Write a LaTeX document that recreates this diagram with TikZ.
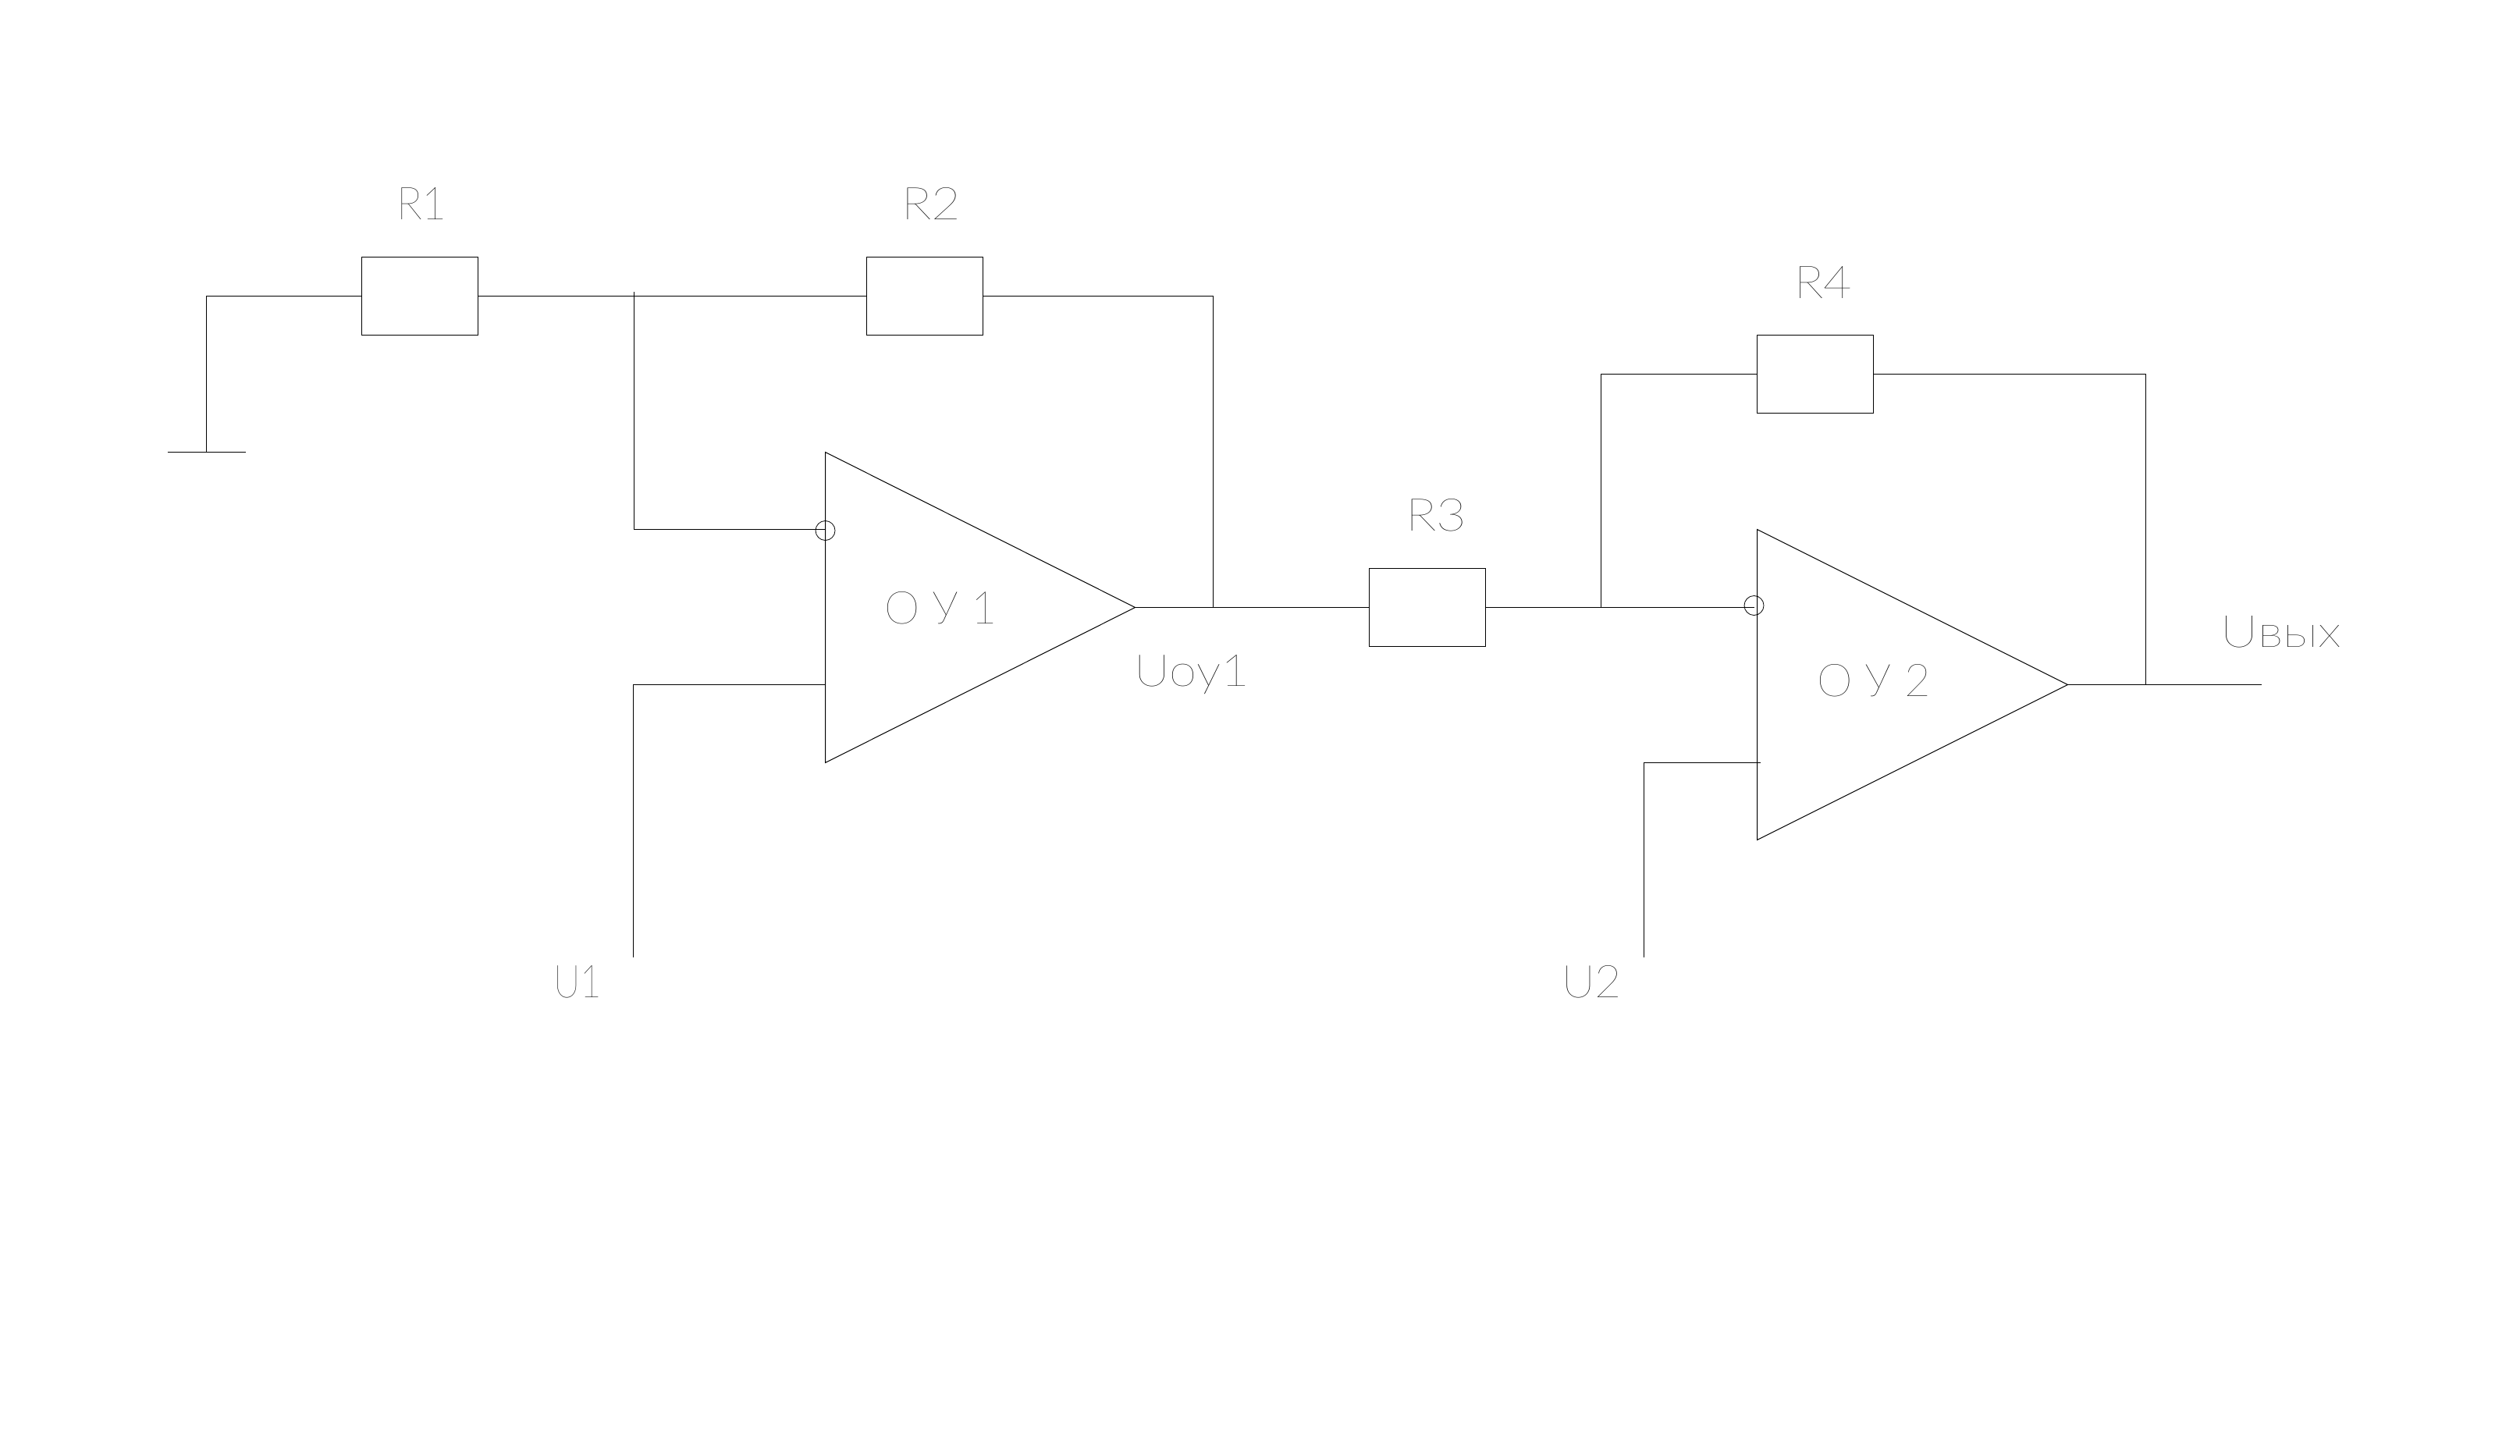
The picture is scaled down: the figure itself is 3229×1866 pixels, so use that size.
\documentclass[tikz,border=0pt]{standalone}
\usepackage{graphicx}
\usepackage{fontspec}
\setmainfont{Lato}[UprightFont=* Thin]
\newcommand{\lab}[6]{\node[lab] (#1) at (#2,#3) {\resizebox{\dimexpr#4pt/2\relax}{\dimexpr#5pt/2\relax}{#6}};}
\tikzset{
  x=0.5pt,y=-0.5pt,
  wire/.style={draw=black,line width=0.5pt},
  lab/.style={anchor=base west,inner sep=0pt,outer sep=0pt,font=\fontsize{24}{28}\selectfont},
  res/.style={draw=black,line width=0.5pt,rectangle,minimum width=74.5pt,minimum height=50pt,inner sep=0pt,outer sep=0pt},
  bub/.style={draw=black,line width=0.4pt,circle,minimum size=12.5pt,inner sep=0pt,outer sep=0pt}
}
\begin{document}
\begin{tikzpicture}
\useasboundingbox (1,1) rectangle (3230,1867);
% resistors
\node[res] (r1) at (539,380.5) {};
\node[res] (r2) at (1186,380.5) {};
\node[res] (r3) at (1830,779.5) {};
\node[res] (r4) at (2327,480.5) {};
% op-amp corners
\coordinate (a1t) at (1058.5,580.5);
\coordinate (a1b) at (1058.5,978.5);
\coordinate (a1o) at (1455.5,779.5);
\coordinate (a2t) at (2252.5,679.5);
\coordinate (a2b) at (2252.5,1077.5);
\coordinate (a2o) at (2650.5,878.5);
\draw[wire] (a1t) -- (a1o) -- (a1b) -- cycle;
\draw[wire] (a2t) -- (a2o) -- (a2b) -- cycle;
% inversion circles
\node[bub] (b1) at (1058.5,681) {};
\node[bub] (b2) at (2248.5,777) {};
% free ends and junctions
\coordinate (gnd) at (265.5,580.5);
\coordinate (gl) at (215.5,580.5);
\coordinate (gr) at (315.5,580.5);
\coordinate (gup) at (265.5,380.5);
\coordinate (jtop) at (813.5,375.5);
\coordinate (j1) at (813.5,679.5);
\coordinate (in1) at (1058.5,679.5);
\coordinate (fb1t) at (1555.5,380.5);
\coordinate (fb1b) at (1555.5,779.5);
\coordinate (p1) at (1058.5,878.5);
\coordinate (p1c) at (812.5,878.5);
\coordinate (u1e) at (812.5,1227.5);
\coordinate (in2) at (2248.5,779.5);
\coordinate (f2l) at (2052.5,779.5);
\coordinate (f2t) at (2052.5,480.5);
\coordinate (f2r) at (2750.5,480.5);
\coordinate (f2b) at (2750.5,878.5);
\coordinate (p2) at (2256.5,978.5);
\coordinate (p2c) at (2107.5,978.5);
\coordinate (u2e) at (2107.5,1227.5);
\coordinate (oe) at (2898.5,878.5);
% wiring
\draw[wire] (gl) -- (gr);
\draw[wire] (gnd) -- (gup) -- (r1.west);
\draw[wire] (r1.east) -- (r2.west);
\draw[wire] (r2.east) -- (fb1t) -- (fb1b);
\draw[wire] (jtop) -- (j1) -- (in1);
\draw[wire] (u1e) -- (p1c) -- (p1);
\draw[wire] (a1o) -- (r3.west);
\draw[wire] (r3.east) -- (in2);
\draw[wire] (f2l) -- (f2t) -- (r4.west);
\draw[wire] (r4.east) -- (f2r) -- (f2b);
\draw[wire] (u2e) -- (p2c) -- (p2);
\draw[wire] (a2o) -- (oe);
% labels
\lab{tr1}{509}{283}{65}{41}{R1}
\lab{tr2}{1156}{283}{76}{41}{R2}
\lab{tr3}{1802}{682}{78}{41}{R3}
\lab{tr4}{2300}{384}{74}{41}{R4}
\lab{toa}{1134}{800}{145}{41}{О У 1}
\lab{too}{1454}{880}{148}{40}{Uоу1}
\lab{tob}{2329}{893}{146}{41}{О У 2}
\lab{tvy}{2846}{830}{155}{40}{Uвых}
\lab{tu1}{710}{1279}{62}{41}{U1}
\lab{tu2}{2002}{1279}{77}{41}{U2}
\end{tikzpicture}
\end{document}
